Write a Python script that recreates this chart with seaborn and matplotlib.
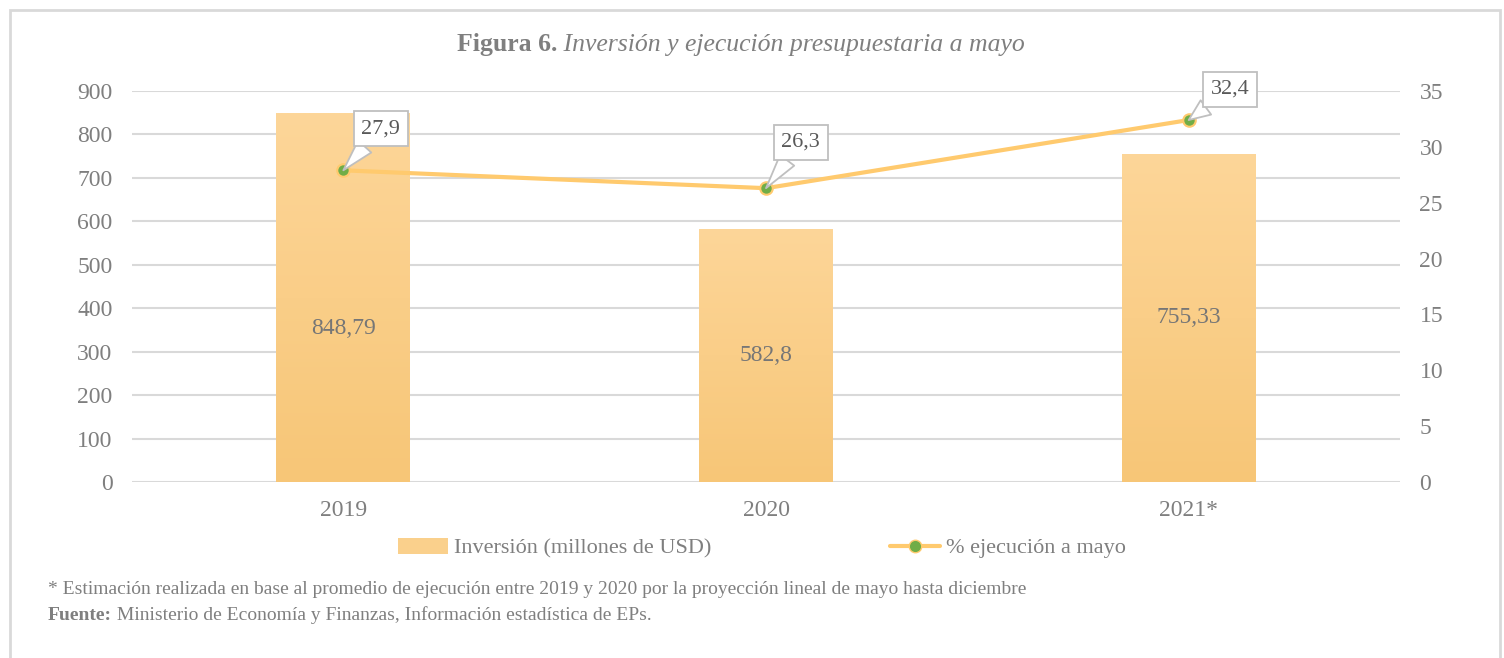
import numpy as np
import pandas as pd
import matplotlib
matplotlib.use("Agg")
import matplotlib.pyplot as plt
import seaborn as sns
from matplotlib.lines import Line2D
from matplotlib.patches import Rectangle, Patch
from matplotlib.colors import LinearSegmentedColormap

# ---- data ----
years = ["2019", "2020", "2021*"]
inversion = [848.79, 582.8, 755.33]
inversion_labels = ["848,79", "582,8", "755,33"]
ejecucion = [27.9, 26.3, 32.4]
ejecucion_labels = ["27,9", "26,3", "32,4"]
left_ticks = [0, 100, 200, 300, 400, 500, 600, 700, 800, 900]
right_ticks = [0, 5, 10, 15, 20, 25, 30, 35]
bar_name = "Inversión (millones de USD)"
line_name = "% ejecución a mayo"
title_bold = "Figura 6."
title_ital = " Inversión y ejecución presupuestaria a mayo"
note = "* Estimación realizada en base al promedio de ejecución entre 2019 y 2020 por la proyección lineal de mayo hasta diciembre"
source_bold = "Fuente:"
source_text = " Ministerio de Economía y Finanzas, Información estadística de EPs."

sns.set_theme(style="white")
plt.rcParams["font.family"] = ["Liberation Serif", "DejaVu Serif"]

TXT = "#7f7f7f"
GRID = "#d9d9d9"
BAR_TOP = "#fdd699"
BAR_BOT = "#f7c677"
LINE = "#ffca6e"
MARK = "#70ad47"
FS = 17

fig = plt.figure(figsize=(15.04, 6.58), dpi=100)
ax = fig.add_axes([132/1504, 1-482/658, (1400-132)/1504, (482-91)/658])

df = pd.DataFrame({"year": years, "inv": inversion, "ejec": ejecucion})
sns.barplot(data=df, x="year", y="inv", color=BAR_BOT, width=0.317, ax=ax, zorder=2)
ax.set_xlim(-0.5, 2.5)
ax.set_ylim(0, 900)
ax.set_yticks(left_ticks)
ax.set_xlabel("")
ax.set_ylabel("")
for s in ax.spines.values():
    s.set_visible(False)
ax.grid(axis="y", color=GRID, lw=1.5, zorder=0)
ax.set_axisbelow(True)
ax.tick_params(axis="y", length=0, pad=14, labelsize=FS, labelcolor=TXT)
ax.tick_params(axis="x", length=0, pad=13, labelsize=FS, labelcolor=TXT)

# gradient fill for bars
cmap = LinearSegmentedColormap.from_list("g", [BAR_BOT, BAR_TOP])
grad = np.linspace(0, 1, 256).reshape(-1, 1)
for p in ax.patches:
    x0, w, h = p.get_x(), p.get_width(), p.get_height()
    im = ax.imshow(grad, cmap=cmap, aspect="auto", origin="lower",
                   extent=[x0, x0 + w, 0, h], zorder=2)
    im.set_clip_path(p)
    p.set_facecolor("none")
    p.set_edgecolor("none")
ax.set_xlim(-0.5, 2.5)
ax.set_ylim(0, 900)

label_frac = [0.417, 0.5, 0.5]
for i, (v, lab) in enumerate(zip(inversion, inversion_labels)):
    ax.text(i, v * label_frac[i], lab, ha="center", va="center",
            fontsize=FS, color="#767676", zorder=5)

ax2 = ax.twinx()
sns.lineplot(data=df, x="year", y="ejec", ax=ax2, color=LINE, lw=3, sort=False,
             marker="o", markersize=9, markerfacecolor=MARK, markeredgecolor=LINE,
             markeredgewidth=1.5, zorder=4)
ax2.set_ylim(0, 35)
ax2.set_yticks(right_ticks)
ax2.set_xlim(-0.5, 2.5)
ax2.set_ylabel("")
ax2.set_xlabel("")
for s in ax2.spines.values():
    s.set_visible(False)
ax2.tick_params(axis="y", length=0, pad=14, labelsize=FS, labelcolor=TXT)
ax2.grid(False)

offsets = [(27, 30), (25, 33), (30, 22)]
for i, (v, lab) in enumerate(zip(ejecucion, ejecucion_labels)):
    ax2.annotate(lab, xy=(i, v), xytext=offsets[i], textcoords="offset points",
                 ha="center", va="center", fontsize=16, color="#595959", zorder=6,
                 bbox=dict(boxstyle="square,pad=0.35", fc="white", ec="#bfbfbf", lw=1.3),
                 arrowprops=dict(arrowstyle="wedge,tail_width=0.8,shrink_factor=0.5",
                                 fc="white", ec="#bfbfbf", lw=1.3, shrinkA=0, shrinkB=0))

# legend
handles = [Patch(facecolor="#fad08c", edgecolor="none"),
           Line2D([0], [0], color=LINE, lw=3, marker="o", markersize=9,
                  markerfacecolor=MARK, markeredgecolor=LINE)]
leg = fig.legend(handles, [bar_name, line_name], loc="center",
                 bbox_to_anchor=(762/1504, 1-548/658), ncol=2, frameon=False,
                 fontsize=16, handlelength=2.25, handleheight=0.75, handletextpad=0.3,
                 columnspacing=8.0)
for t in leg.get_texts():
    t.set_color(TXT)

# title (bold + italic), centered
fig.canvas.draw()
r = fig.canvas.get_renderer()
tb = fig.text(0, 1-45/658, title_bold, fontsize=18.5, fontweight="bold", color=TXT,
              va="center", ha="left")
ti = fig.text(0, 1-45/658, title_ital, fontsize=18.5, fontstyle="italic", color=TXT,
              va="center", ha="left")
wb = tb.get_window_extent(r).width
wi = ti.get_window_extent(r).width
x0 = 741 - (wb + wi) / 2
tb.set_x(x0 / 1504)
ti.set_x((x0 + wb) / 1504)

# footnotes
fig.text(48/1504, 1-590/658, note, fontsize=14, color=TXT, va="center", ha="left")
fb = fig.text(48/1504, 1-615/658, source_bold, fontsize=14, fontweight="bold",
              color=TXT, va="center", ha="left")
w = fb.get_window_extent(r).width
fig.text((48 + w)/1504, 1-615/658, source_text, fontsize=14, color=TXT,
         va="center", ha="left")

# outer frame
fig.patches.append(Rectangle((10/1504, -0.05), 1490/1504, 1.05 - 10/658,
                             transform=fig.transFigure, fill=False,
                             ec=GRID, lw=2))

fig.savefig("out.png", dpi=100, facecolor="white")
